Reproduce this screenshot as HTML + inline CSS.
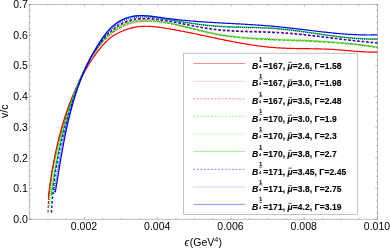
<!DOCTYPE html>
<html><head><meta charset="utf-8"><title>v/c</title>
<style>
html,body{margin:0;padding:0;background:#fff;}
body{width:390px;height:248px;overflow:hidden;}
svg{display:block;will-change:transform;}
text{font-family:"Liberation Sans",sans-serif;font-size:10.5px;fill:#000;}
.lt text{font-weight:bold;font-size:8.5px;letter-spacing:0.06px;stroke:#000;stroke-width:0.12px;}
.cv path{fill:none;stroke-width:1.2;}
</style></head><body>
<svg width="390" height="248" viewBox="0 0 390 248">
<rect width="390" height="248" fill="#fff"/>
<g class="cv">
<path d="M48.33 196.92 L48.47 195.88 L48.61 194.84 L48.75 193.80 L48.89 192.76 L49.03 191.72 L49.18 190.68 L49.32 189.64 L49.47 188.60 L49.62 187.55 L49.77 186.51 L49.92 185.46 L50.08 184.42 L50.23 183.37 L50.39 182.32 L50.55 181.28 L50.71 180.23 L50.87 179.18 L51.04 178.13 L51.20 177.08 L51.37 176.03 L51.54 174.98 L51.71 173.93 L51.88 172.88 L52.06 171.83 L52.24 170.78 L52.42 169.73 L52.60 168.68 L52.78 167.63 L52.97 166.58 L53.15 165.53 L53.34 164.48 L53.54 163.43 L53.73 162.38 L53.93 161.33 L54.13 160.28 L54.33 159.23 L54.53 158.18 L54.74 157.13 L54.95 156.08 L55.16 155.03 L55.37 153.98 L55.59 152.93 L55.81 151.88 L56.03 150.84 L56.25 149.79 L56.48 148.74 L56.71 147.70 L56.94 146.65 L57.17 145.61 L57.41 144.56 L57.65 143.52 L57.89 142.48 L58.14 141.43 L58.39 140.39 L58.64 139.35 L58.89 138.31 L59.15 137.27 L59.41 136.24 L59.68 135.20 L59.94 134.16 L60.21 133.13 L60.49 132.10 L60.76 131.06 L61.04 130.03 L61.33 129.00 L61.61 127.97 L61.90 126.94 L62.19 125.92 L62.49 124.89 L62.79 123.87 L63.09 122.84 L63.40 121.82 L63.71 120.80 L64.02 119.78 L64.34 118.76 L64.66 117.75 L64.98 116.73 L65.31 115.72 L65.64 114.71 L65.98 113.70 L66.32 112.69 L66.66 111.69 L67.01 110.68 L67.36 109.68 L67.71 108.68 L68.07 107.68 L68.43 106.68 L68.80 105.68 L69.17 104.69 L69.55 103.70 L69.92 102.71 L70.31 101.72 L70.69 100.74 L71.08 99.75 L71.48 98.77 L71.88 97.79 L72.28 96.81 L72.69 95.84 L73.10 94.87 L73.52 93.89 L73.94 92.93 L74.36 91.96 L74.79 90.99 L75.23 90.03 L75.67 89.07 L76.11 88.11 L76.56 87.16 L77.01 86.20 L77.46 85.25 L77.92 84.30 L78.39 83.35 L78.86 82.40 L79.33 81.46 L79.81 80.51 L80.30 79.57 L80.78 78.63 L81.28 77.69 L81.77 76.75 L82.27 75.82 L82.78 74.88 L83.29 73.95 L83.81 73.02 L84.33 72.09 L84.85 71.16 L85.38 70.24 L85.92 69.31 L86.45 68.39 L87.00 67.47 L87.55 66.55 L88.10 65.63 L88.66 64.71 L89.22 63.79 L89.79 62.88 L90.37 61.97 L90.94 61.06 L91.53 60.15 L92.12 59.25 L92.72 58.36 L93.32 57.46 L93.93 56.58 L94.54 55.69 L95.16 54.82 L95.78 53.95 L96.42 53.08 L97.06 52.22 L97.70 51.37 L98.35 50.52 L99.01 49.69 L99.68 48.86 L100.35 48.03 L101.03 47.22 L101.72 46.41 L102.41 45.62 L103.11 44.83 L103.82 44.06 L104.54 43.29 L105.26 42.53 L105.99 41.79 L106.73 41.05 L107.48 40.33 L108.24 39.63 L109.02 38.94 L109.81 38.27 L110.61 37.63 L111.43 37.00 L112.27 36.41 L113.13 35.84 L114.00 35.29 L114.90 34.76 L115.80 34.25 L116.73 33.75 L117.67 33.27 L118.62 32.79 L119.59 32.33 L120.57 31.87 L121.56 31.43 L122.56 31.00 L123.57 30.58 L124.59 30.18 L125.62 29.79 L126.65 29.42 L127.69 29.07 L128.73 28.73 L129.78 28.42 L130.83 28.13 L131.88 27.85 L132.94 27.60 L133.99 27.38 L135.05 27.17 L136.10 26.99 L137.16 26.84 L138.21 26.70 L139.26 26.58 L140.32 26.48 L141.37 26.40 L142.43 26.34 L143.48 26.30 L144.53 26.28 L145.59 26.27 L146.64 26.27 L147.70 26.29 L148.75 26.33 L149.80 26.38 L150.86 26.44 L151.91 26.51 L152.96 26.60 L154.01 26.69 L155.07 26.80 L156.12 26.91 L157.17 27.03 L158.22 27.17 L159.27 27.30 L160.33 27.45 L161.38 27.60 L162.43 27.75 L163.48 27.92 L164.53 28.08 L165.58 28.25 L166.62 28.42 L167.67 28.59 L168.72 28.76 L169.77 28.94 L170.82 29.12 L171.86 29.30 L172.91 29.49 L173.96 29.67 L175.00 29.86 L176.05 30.05 L177.10 30.25 L178.14 30.44 L179.19 30.64 L180.23 30.84 L181.28 31.04 L182.32 31.24 L183.36 31.44 L184.41 31.65 L185.45 31.85 L186.50 32.06 L187.54 32.27 L188.58 32.48 L189.63 32.69 L190.67 32.91 L191.71 33.12 L192.75 33.34 L193.80 33.55 L194.84 33.77 L195.88 33.99 L196.92 34.20 L197.97 34.42 L199.01 34.64 L200.05 34.86 L201.09 35.08 L202.13 35.31 L203.18 35.53 L204.22 35.75 L205.26 35.97 L206.30 36.19 L207.34 36.41 L208.38 36.64 L209.43 36.86 L210.47 37.08 L211.51 37.30 L212.55 37.52 L213.59 37.74 L214.63 37.96 L215.68 38.18 L216.72 38.40 L217.76 38.62 L218.80 38.84 L219.84 39.06 L220.89 39.27 L221.93 39.49 L222.97 39.70 L224.01 39.92 L225.06 40.13 L226.10 40.34 L227.14 40.55 L228.19 40.76 L229.23 40.96 L230.27 41.17 L231.32 41.37 L232.36 41.58 L233.41 41.78 L234.45 41.98 L235.49 42.17 L236.54 42.37 L237.58 42.56 L238.63 42.75 L239.68 42.94 L240.72 43.13 L241.77 43.32 L242.81 43.50 L243.86 43.68 L244.91 43.86 L245.96 44.03 L247.00 44.21 L248.05 44.38 L249.10 44.55 L250.15 44.71 L251.20 44.87 L252.25 45.03 L253.30 45.19 L254.35 45.34 L255.40 45.49 L256.45 45.64 L257.50 45.78 L258.56 45.92 L259.61 46.06 L260.66 46.20 L261.72 46.33 L262.77 46.45 L263.82 46.58 L264.88 46.70 L265.93 46.81 L266.99 46.92 L268.05 47.03 L269.10 47.14 L270.16 47.24 L271.22 47.33 L272.28 47.42 L273.34 47.51 L274.40 47.59 L275.46 47.67 L276.52 47.75 L277.58 47.82 L278.64 47.88 L279.71 47.94 L280.77 48.00 L281.83 48.06 L282.90 48.11 L283.96 48.16 L285.03 48.20 L286.09 48.24 L287.16 48.28 L288.22 48.32 L289.29 48.35 L290.36 48.39 L291.42 48.42 L292.49 48.44 L293.56 48.47 L294.62 48.49 L295.69 48.51 L296.76 48.53 L297.83 48.55 L298.90 48.57 L299.97 48.59 L301.03 48.61 L302.10 48.62 L303.17 48.64 L304.24 48.65 L305.31 48.67 L306.38 48.68 L307.45 48.69 L308.51 48.71 L309.58 48.72 L310.65 48.74 L311.72 48.75 L312.79 48.77 L313.86 48.79 L314.92 48.81 L315.99 48.83 L317.06 48.85 L318.13 48.87 L319.19 48.90 L320.26 48.92 L321.33 48.95 L322.39 48.98 L323.46 49.02 L324.52 49.05 L325.59 49.09 L326.65 49.13 L327.72 49.18 L328.78 49.22 L329.84 49.27 L330.91 49.33 L331.97 49.38 L333.03 49.44 L334.09 49.51 L335.15 49.58 L336.21 49.65 L337.27 49.73 L338.33 49.81 L339.39 49.89 L340.45 49.97 L341.50 50.06 L342.56 50.15 L343.62 50.24 L344.68 50.34 L345.73 50.43 L346.79 50.52 L347.85 50.62 L348.90 50.71 L349.96 50.81 L351.02 50.90 L352.07 51.00 L353.13 51.09 L354.19 51.18 L355.25 51.26 L356.30 51.35 L357.36 51.43 L358.42 51.51 L359.48 51.58 L360.54 51.66 L361.60 51.72 L362.66 51.79 L363.72 51.84 L364.79 51.90 L365.85 51.94 L366.92 51.99 L367.98 52.02 L369.05 52.05 L370.11 52.07 L371.18 52.08 L372.25 52.09 L373.32 52.09 L374.39 52.08 L375.47 52.06 L376.54 52.03 L377.62 52.00" stroke="#ff0000"/>
<path d="M48.26 204.09 L48.33 202.98 L48.40 201.87 L48.48 200.76 L48.56 199.66 L48.65 198.55 L48.74 197.45 L48.83 196.35 L48.93 195.25 L49.03 194.15 L49.13 193.05 L49.24 191.95 L49.35 190.86 L49.47 189.76 L49.59 188.67 L49.71 187.58 L49.84 186.49 L49.97 185.40 L50.10 184.32 L50.24 183.23 L50.38 182.15 L50.53 181.06 L50.68 179.98 L50.83 178.90 L50.98 177.82 L51.14 176.74 L51.31 175.67 L51.47 174.59 L51.64 173.52 L51.82 172.44 L52.00 171.37 L52.18 170.30 L52.36 169.23 L52.55 168.16 L52.74 167.09 L52.94 166.03 L53.13 164.96 L53.34 163.90 L53.54 162.83 L53.75 161.77 L53.96 160.71 L54.18 159.65 L54.39 158.59 L54.62 157.53 L54.84 156.47 L55.07 155.42 L55.30 154.36 L55.54 153.30 L55.77 152.25 L56.02 151.20 L56.26 150.15 L56.51 149.09 L56.76 148.04 L57.01 146.99 L57.27 145.94 L57.53 144.90 L57.79 143.85 L58.06 142.80 L58.33 141.76 L58.60 140.71 L58.88 139.67 L59.16 138.62 L59.44 137.58 L59.72 136.54 L60.01 135.50 L60.30 134.45 L60.59 133.41 L60.89 132.37 L61.19 131.33 L61.49 130.30 L61.80 129.26 L62.11 128.22 L62.42 127.18 L62.73 126.15 L63.05 125.11 L63.37 124.08 L63.69 123.04 L64.01 122.01 L64.34 120.97 L64.67 119.94 L65.00 118.91 L65.34 117.87 L65.68 116.84 L66.02 115.81 L66.36 114.78 L66.71 113.75 L67.06 112.72 L67.41 111.68 L67.77 110.65 L68.12 109.62 L68.48 108.60 L68.85 107.57 L69.21 106.54 L69.58 105.51 L69.95 104.48 L70.32 103.45 L70.69 102.42 L71.07 101.40 L71.45 100.37 L71.83 99.34 L72.22 98.31 L72.60 97.29 L72.99 96.26 L73.39 95.23 L73.78 94.21 L74.18 93.18 L74.58 92.15 L74.98 91.13 L75.39 90.11 L75.80 89.08 L76.21 88.06 L76.62 87.04 L77.04 86.02 L77.47 85.01 L77.89 83.99 L78.33 82.98 L78.76 81.96 L79.20 80.95 L79.64 79.95 L80.09 78.94 L80.54 77.94 L81.00 76.94 L81.46 75.94 L81.93 74.94 L82.40 73.95 L82.88 72.96 L83.36 71.98 L83.85 70.99 L84.34 70.01 L84.84 69.04 L85.34 68.06 L85.85 67.10 L86.37 66.13 L86.89 65.17 L87.42 64.21 L87.95 63.26 L88.49 62.31 L89.04 61.37 L89.59 60.43 L90.15 59.50 L90.72 58.57 L91.30 57.64 L91.88 56.72 L92.47 55.81 L93.06 54.90 L93.67 54.00 L94.28 53.10 L94.90 52.21 L95.52 51.33 L96.16 50.45 L96.80 49.57 L97.45 48.71 L98.11 47.85 L98.78 46.99 L99.45 46.15 L100.14 45.31 L100.83 44.47 L101.53 43.65 L102.24 42.83 L102.96 42.02 L103.69 41.21 L104.43 40.41 L105.18 39.63 L105.94 38.85 L106.71 38.08 L107.49 37.32 L108.27 36.57 L109.07 35.84 L109.88 35.12 L110.70 34.41 L111.53 33.71 L112.37 33.03 L113.22 32.37 L114.08 31.72 L114.95 31.09 L115.84 30.48 L116.74 29.88 L117.64 29.30 L118.56 28.75 L119.49 28.21 L120.42 27.69 L121.37 27.19 L122.33 26.70 L123.29 26.24 L124.26 25.80 L125.25 25.38 L126.24 24.98 L127.24 24.60 L128.24 24.24 L129.26 23.90 L130.28 23.59 L131.30 23.29 L132.34 23.02 L133.38 22.77 L134.42 22.54 L135.48 22.33 L136.53 22.14 L137.59 21.97 L138.66 21.82 L139.73 21.69 L140.81 21.57 L141.89 21.48 L142.97 21.40 L144.06 21.33 L145.15 21.29 L146.24 21.25 L147.33 21.24 L148.43 21.24 L149.53 21.25 L150.63 21.28 L151.73 21.32 L152.83 21.37 L153.93 21.44 L155.04 21.52 L156.14 21.61 L157.24 21.71 L158.34 21.82 L159.45 21.94 L160.55 22.07 L161.65 22.21 L162.75 22.36 L163.84 22.52 L164.94 22.68 L166.03 22.85 L167.12 23.03 L168.20 23.22 L169.29 23.41 L170.37 23.61 L171.45 23.82 L172.53 24.03 L173.60 24.24 L174.68 24.46 L175.75 24.69 L176.82 24.92 L177.89 25.16 L178.96 25.39 L180.02 25.64 L181.09 25.88 L182.15 26.13 L183.21 26.38 L184.28 26.64 L185.34 26.90 L186.40 27.16 L187.45 27.42 L188.51 27.68 L189.57 27.94 L190.62 28.21 L191.68 28.48 L192.73 28.74 L193.79 29.01 L194.84 29.28 L195.89 29.54 L196.95 29.81 L198.00 30.07 L199.05 30.34 L200.11 30.60 L201.16 30.86 L202.21 31.12 L203.27 31.37 L204.32 31.63 L205.38 31.88 L206.43 32.12 L207.49 32.37 L208.54 32.61 L209.60 32.85 L210.66 33.08 L211.72 33.31 L212.78 33.53 L213.84 33.75 L214.90 33.96 L215.96 34.17 L217.03 34.37 L218.09 34.57 L219.16 34.76 L220.23 34.95 L221.29 35.13 L222.36 35.30 L223.43 35.48 L224.51 35.64 L225.58 35.80 L226.65 35.96 L227.73 36.11 L228.80 36.26 L229.88 36.41 L230.96 36.54 L232.03 36.68 L233.11 36.81 L234.19 36.94 L235.27 37.06 L236.36 37.18 L237.44 37.30 L238.52 37.41 L239.60 37.52 L240.69 37.62 L241.77 37.73 L242.86 37.82 L243.94 37.92 L245.03 38.01 L246.12 38.10 L247.20 38.19 L248.29 38.27 L249.38 38.35 L250.47 38.43 L251.56 38.51 L252.65 38.58 L253.73 38.65 L254.82 38.72 L255.91 38.79 L257.01 38.85 L258.10 38.91 L259.19 38.97 L260.28 39.03 L261.37 39.09 L262.46 39.15 L263.55 39.20 L264.64 39.25 L265.74 39.30 L266.83 39.35 L267.92 39.40 L269.01 39.45 L270.10 39.50 L271.19 39.54 L272.29 39.59 L273.38 39.63 L274.47 39.68 L275.56 39.72 L276.65 39.76 L277.74 39.81 L278.83 39.85 L279.92 39.89 L281.01 39.93 L282.10 39.97 L283.19 40.02 L284.28 40.06 L285.37 40.10 L286.46 40.14 L287.55 40.18 L288.64 40.22 L289.73 40.26 L290.82 40.30 L291.91 40.34 L293.00 40.38 L294.09 40.43 L295.18 40.47 L296.26 40.51 L297.35 40.55 L298.44 40.59 L299.53 40.64 L300.62 40.68 L301.70 40.73 L302.79 40.77 L303.88 40.82 L304.97 40.86 L306.05 40.91 L307.14 40.96 L308.23 41.00 L309.31 41.05 L310.40 41.10 L311.49 41.15 L312.57 41.21 L313.66 41.26 L314.75 41.31 L315.83 41.37 L316.92 41.42 L318.00 41.48 L319.09 41.54 L320.18 41.60 L321.26 41.66 L322.35 41.72 L323.43 41.78 L324.52 41.84 L325.60 41.91 L326.69 41.98 L327.77 42.05 L328.86 42.12 L329.94 42.19 L331.03 42.26 L332.11 42.34 L333.20 42.41 L334.28 42.49 L335.37 42.57 L336.45 42.65 L337.53 42.74 L338.62 42.82 L339.70 42.91 L340.79 43.00 L341.87 43.09 L342.95 43.19 L344.04 43.28 L345.12 43.38 L346.21 43.48 L347.29 43.59 L348.37 43.69 L349.46 43.80 L350.54 43.91 L351.62 44.02 L352.71 44.13 L353.79 44.25 L354.87 44.37 L355.96 44.49 L357.04 44.62 L358.12 44.74 L359.21 44.87 L360.29 45.01 L361.37 45.14 L362.45 45.28 L363.54 45.42 L364.62 45.56 L365.70 45.71 L366.79 45.86 L367.87 46.01 L368.95 46.17 L370.03 46.33 L371.12 46.49 L372.20 46.66 L373.28 46.83 L374.36 47.00 L375.45 47.17 L376.53 47.35 L377.61 47.53" stroke="#ff0000" stroke-dasharray="0.9 1.15"/>
<path d="M48.00 212.47 L48.04 211.34 L48.09 210.21 L48.14 209.08 L48.19 207.95 L48.25 206.83 L48.32 205.70 L48.38 204.58 L48.45 203.45 L48.53 202.33 L48.61 201.21 L48.69 200.09 L48.78 198.97 L48.87 197.86 L48.96 196.74 L49.06 195.62 L49.17 194.51 L49.27 193.40 L49.39 192.29 L49.50 191.17 L49.62 190.06 L49.74 188.96 L49.87 187.85 L50.00 186.74 L50.13 185.63 L50.27 184.53 L50.42 183.43 L50.56 182.32 L50.71 181.22 L50.87 180.12 L51.02 179.02 L51.18 177.92 L51.35 176.82 L51.52 175.73 L51.69 174.63 L51.86 173.53 L52.04 172.44 L52.23 171.35 L52.41 170.25 L52.60 169.16 L52.80 168.07 L53.00 166.98 L53.20 165.89 L53.40 164.80 L53.61 163.72 L53.82 162.63 L54.03 161.55 L54.25 160.46 L54.47 159.38 L54.70 158.29 L54.93 157.21 L55.16 156.13 L55.39 155.05 L55.63 153.97 L55.88 152.89 L56.12 151.81 L56.37 150.74 L56.62 149.66 L56.88 148.58 L57.13 147.51 L57.39 146.43 L57.66 145.36 L57.93 144.29 L58.20 143.21 L58.47 142.14 L58.75 141.07 L59.03 140.00 L59.31 138.93 L59.60 137.86 L59.89 136.80 L60.18 135.73 L60.48 134.66 L60.77 133.59 L61.08 132.53 L61.38 131.46 L61.69 130.40 L62.00 129.34 L62.31 128.27 L62.63 127.21 L62.94 126.15 L63.27 125.09 L63.59 124.03 L63.92 122.97 L64.25 121.91 L64.58 120.85 L64.92 119.79 L65.25 118.73 L65.60 117.67 L65.94 116.62 L66.29 115.56 L66.64 114.51 L66.99 113.45 L67.34 112.40 L67.70 111.34 L68.06 110.29 L68.42 109.23 L68.79 108.18 L69.15 107.13 L69.52 106.08 L69.89 105.02 L70.27 103.97 L70.65 102.92 L71.03 101.87 L71.41 100.82 L71.79 99.77 L72.18 98.72 L72.57 97.67 L72.96 96.63 L73.35 95.58 L73.75 94.53 L74.15 93.48 L74.55 92.44 L74.96 91.39 L75.37 90.35 L75.78 89.31 L76.19 88.26 L76.61 87.22 L77.03 86.18 L77.45 85.14 L77.88 84.11 L78.31 83.07 L78.75 82.04 L79.19 81.01 L79.63 79.98 L80.08 78.95 L80.53 77.93 L80.99 76.90 L81.45 75.88 L81.92 74.86 L82.39 73.85 L82.86 72.84 L83.34 71.83 L83.83 70.82 L84.32 69.81 L84.82 68.81 L85.32 67.81 L85.82 66.82 L86.34 65.83 L86.86 64.84 L87.38 63.85 L87.91 62.87 L88.45 61.89 L88.99 60.92 L89.54 59.95 L90.09 58.98 L90.66 58.02 L91.22 57.06 L91.80 56.11 L92.38 55.16 L92.97 54.22 L93.57 53.28 L94.17 52.34 L94.78 51.41 L95.40 50.49 L96.03 49.57 L96.66 48.65 L97.30 47.74 L97.95 46.84 L98.61 45.94 L99.27 45.04 L99.94 44.16 L100.63 43.27 L101.32 42.40 L102.02 41.53 L102.72 40.66 L103.44 39.80 L104.16 38.95 L104.90 38.11 L105.64 37.28 L106.40 36.46 L107.16 35.65 L107.94 34.85 L108.72 34.06 L109.52 33.29 L110.33 32.54 L111.14 31.79 L111.97 31.07 L112.82 30.36 L113.67 29.67 L114.54 29.00 L115.42 28.35 L116.31 27.72 L117.21 27.11 L118.12 26.52 L119.05 25.95 L119.99 25.40 L120.93 24.87 L121.89 24.37 L122.86 23.88 L123.83 23.42 L124.82 22.99 L125.82 22.57 L126.82 22.18 L127.84 21.82 L128.86 21.47 L129.89 21.15 L130.93 20.86 L131.97 20.59 L133.03 20.35 L134.09 20.13 L135.16 19.93 L136.23 19.75 L137.31 19.60 L138.40 19.47 L139.49 19.35 L140.58 19.26 L141.69 19.18 L142.79 19.13 L143.90 19.09 L145.01 19.06 L146.13 19.06 L147.25 19.07 L148.37 19.09 L149.50 19.13 L150.63 19.18 L151.75 19.24 L152.88 19.32 L154.02 19.41 L155.15 19.50 L156.28 19.61 L157.41 19.73 L158.55 19.86 L159.68 19.99 L160.81 20.13 L161.94 20.28 L163.07 20.44 L164.20 20.60 L165.32 20.76 L166.44 20.93 L167.56 21.11 L168.68 21.29 L169.79 21.47 L170.91 21.65 L172.02 21.84 L173.13 22.03 L174.24 22.22 L175.34 22.42 L176.45 22.62 L177.55 22.82 L178.65 23.02 L179.75 23.22 L180.85 23.42 L181.94 23.63 L183.04 23.84 L184.13 24.04 L185.23 24.25 L186.32 24.46 L187.41 24.67 L188.50 24.88 L189.59 25.08 L190.68 25.29 L191.77 25.49 L192.86 25.70 L193.95 25.90 L195.03 26.10 L196.12 26.30 L197.21 26.50 L198.30 26.70 L199.38 26.89 L200.47 27.08 L201.56 27.27 L202.65 27.45 L203.73 27.63 L204.82 27.81 L205.91 27.98 L207.00 28.15 L208.09 28.31 L209.18 28.48 L210.27 28.63 L211.36 28.78 L212.46 28.93 L213.55 29.07 L214.64 29.20 L215.74 29.33 L216.84 29.45 L217.94 29.57 L219.04 29.68 L220.14 29.79 L221.24 29.89 L222.34 29.99 L223.44 30.08 L224.55 30.17 L225.66 30.25 L226.76 30.33 L227.87 30.40 L228.98 30.47 L230.09 30.54 L231.20 30.60 L232.31 30.66 L233.42 30.72 L234.53 30.77 L235.64 30.82 L236.75 30.87 L237.87 30.91 L238.98 30.95 L240.10 30.99 L241.21 31.03 L242.33 31.07 L243.44 31.10 L244.56 31.14 L245.68 31.17 L246.79 31.20 L247.91 31.23 L249.03 31.26 L250.15 31.28 L251.26 31.31 L252.38 31.34 L253.50 31.36 L254.62 31.39 L255.74 31.42 L256.85 31.44 L257.97 31.47 L259.09 31.50 L260.21 31.53 L261.33 31.56 L262.44 31.59 L263.56 31.62 L264.68 31.65 L265.80 31.69 L266.91 31.73 L268.03 31.77 L269.15 31.81 L270.26 31.85 L271.38 31.90 L272.50 31.95 L273.61 32.00 L274.72 32.05 L275.84 32.11 L276.95 32.17 L278.07 32.24 L279.18 32.30 L280.29 32.37 L281.40 32.45 L282.51 32.52 L283.62 32.60 L284.73 32.68 L285.84 32.77 L286.95 32.85 L288.06 32.94 L289.17 33.03 L290.28 33.13 L291.39 33.22 L292.49 33.32 L293.60 33.42 L294.71 33.53 L295.81 33.63 L296.92 33.74 L298.03 33.85 L299.13 33.96 L300.24 34.07 L301.34 34.19 L302.45 34.30 L303.55 34.42 L304.66 34.54 L305.76 34.66 L306.86 34.78 L307.97 34.91 L309.07 35.03 L310.17 35.16 L311.28 35.29 L312.38 35.41 L313.48 35.54 L314.59 35.68 L315.69 35.81 L316.79 35.94 L317.89 36.07 L319.00 36.21 L320.10 36.34 L321.20 36.48 L322.30 36.61 L323.41 36.75 L324.51 36.89 L325.61 37.03 L326.71 37.16 L327.82 37.30 L328.92 37.44 L330.02 37.58 L331.12 37.72 L332.22 37.85 L333.33 37.99 L334.43 38.13 L335.53 38.27 L336.64 38.41 L337.74 38.54 L338.84 38.68 L339.94 38.82 L341.05 38.95 L342.15 39.09 L343.26 39.22 L344.36 39.36 L345.46 39.49 L346.57 39.62 L347.67 39.75 L348.78 39.88 L349.88 40.01 L350.99 40.14 L352.09 40.27 L353.20 40.40 L354.30 40.52 L355.41 40.64 L356.52 40.77 L357.62 40.89 L358.73 41.00 L359.84 41.12 L360.95 41.24 L362.06 41.35 L363.17 41.46 L364.27 41.57 L365.38 41.68 L366.49 41.79 L367.61 41.89 L368.72 41.99 L369.83 42.09 L370.94 42.19 L372.05 42.29 L373.16 42.38 L374.28 42.47 L375.39 42.56 L376.51 42.64 L377.62 42.73" stroke="#ff0000" stroke-dasharray="2.5 2.0"/>
<path d="M51.15 212.44 L51.19 211.32 L51.24 210.20 L51.29 209.08 L51.35 207.96 L51.41 206.85 L51.47 205.73 L51.54 204.61 L51.61 203.50 L51.68 202.38 L51.76 201.27 L51.84 200.16 L51.93 199.05 L52.02 197.94 L52.11 196.83 L52.21 195.72 L52.30 194.61 L52.41 193.50 L52.51 192.40 L52.62 191.29 L52.74 190.19 L52.85 189.08 L52.97 187.98 L53.10 186.88 L53.22 185.77 L53.35 184.67 L53.49 183.57 L53.62 182.47 L53.76 181.38 L53.91 180.28 L54.05 179.18 L54.20 178.09 L54.36 176.99 L54.51 175.90 L54.67 174.80 L54.84 173.71 L55.00 172.62 L55.17 171.52 L55.34 170.43 L55.52 169.34 L55.70 168.25 L55.88 167.16 L56.07 166.08 L56.26 164.99 L56.45 163.90 L56.64 162.81 L56.84 161.73 L57.04 160.64 L57.24 159.56 L57.45 158.48 L57.66 157.39 L57.87 156.31 L58.09 155.23 L58.31 154.15 L58.53 153.07 L58.76 151.99 L58.99 150.91 L59.22 149.83 L59.45 148.75 L59.69 147.67 L59.93 146.60 L60.17 145.52 L60.41 144.44 L60.66 143.37 L60.91 142.29 L61.17 141.22 L61.42 140.15 L61.68 139.07 L61.95 138.00 L62.21 136.93 L62.48 135.86 L62.75 134.79 L63.02 133.72 L63.30 132.65 L63.58 131.58 L63.86 130.51 L64.14 129.44 L64.43 128.37 L64.72 127.30 L65.01 126.24 L65.31 125.17 L65.60 124.11 L65.90 123.04 L66.21 121.97 L66.51 120.91 L66.82 119.85 L67.13 118.78 L67.44 117.72 L67.76 116.65 L68.07 115.59 L68.39 114.53 L68.72 113.47 L69.04 112.41 L69.37 111.35 L69.70 110.28 L70.03 109.22 L70.37 108.16 L70.70 107.10 L71.04 106.05 L71.39 104.99 L71.73 103.93 L72.08 102.87 L72.43 101.81 L72.78 100.75 L73.13 99.70 L73.49 98.64 L73.84 97.58 L74.20 96.53 L74.57 95.47 L74.93 94.42 L75.30 93.36 L75.67 92.31 L76.04 91.25 L76.42 90.20 L76.80 89.15 L77.18 88.10 L77.57 87.05 L77.96 86.01 L78.35 84.96 L78.75 83.92 L79.16 82.88 L79.56 81.84 L79.98 80.80 L80.39 79.77 L80.81 78.73 L81.24 77.70 L81.67 76.68 L82.11 75.65 L82.55 74.63 L83.00 73.61 L83.45 72.60 L83.91 71.59 L84.37 70.58 L84.85 69.58 L85.32 68.57 L85.81 67.58 L86.30 66.59 L86.80 65.60 L87.30 64.61 L87.82 63.63 L88.34 62.66 L88.86 61.69 L89.40 60.72 L89.94 59.76 L90.49 58.80 L91.05 57.85 L91.62 56.91 L92.19 55.97 L92.78 55.03 L93.37 54.11 L93.97 53.18 L94.58 52.27 L95.20 51.36 L95.83 50.45 L96.47 49.55 L97.12 48.66 L97.78 47.78 L98.45 46.90 L99.12 46.03 L99.81 45.16 L100.51 44.30 L101.22 43.45 L101.94 42.61 L102.67 41.78 L103.42 40.95 L104.17 40.13 L104.94 39.32 L105.71 38.52 L106.50 37.73 L107.29 36.95 L108.10 36.18 L108.92 35.42 L109.75 34.67 L110.59 33.94 L111.43 33.22 L112.29 32.52 L113.16 31.83 L114.04 31.15 L114.93 30.49 L115.83 29.85 L116.73 29.23 L117.65 28.62 L118.58 28.03 L119.51 27.46 L120.45 26.91 L121.41 26.38 L122.37 25.87 L123.34 25.38 L124.32 24.91 L125.31 24.47 L126.31 24.04 L127.31 23.65 L128.33 23.27 L129.35 22.92 L130.38 22.60 L131.42 22.30 L132.46 22.03 L133.52 21.79 L134.58 21.57 L135.64 21.37 L136.72 21.20 L137.80 21.04 L138.88 20.91 L139.97 20.81 L141.07 20.72 L142.17 20.65 L143.27 20.60 L144.38 20.57 L145.49 20.56 L146.60 20.57 L147.72 20.59 L148.84 20.63 L149.96 20.68 L151.09 20.75 L152.21 20.84 L153.34 20.93 L154.46 21.04 L155.59 21.16 L156.72 21.30 L157.84 21.44 L158.97 21.59 L160.09 21.76 L161.22 21.93 L162.34 22.11 L163.46 22.30 L164.57 22.49 L165.69 22.69 L166.80 22.90 L167.91 23.11 L169.01 23.32 L170.11 23.55 L171.21 23.77 L172.31 24.01 L173.40 24.24 L174.50 24.48 L175.59 24.72 L176.68 24.97 L177.76 25.22 L178.85 25.48 L179.93 25.73 L181.01 25.99 L182.09 26.25 L183.17 26.52 L184.24 26.78 L185.32 27.05 L186.39 27.32 L187.47 27.58 L188.54 27.85 L189.61 28.13 L190.68 28.40 L191.75 28.67 L192.82 28.94 L193.89 29.21 L194.95 29.48 L196.02 29.75 L197.09 30.02 L198.16 30.28 L199.22 30.55 L200.29 30.81 L201.36 31.07 L202.42 31.33 L203.49 31.59 L204.56 31.84 L205.63 32.09 L206.70 32.34 L207.77 32.59 L208.84 32.83 L209.91 33.06 L210.99 33.29 L212.06 33.52 L213.14 33.74 L214.21 33.96 L215.29 34.17 L216.37 34.38 L217.45 34.58 L218.54 34.78 L219.62 34.97 L220.71 35.15 L221.79 35.33 L222.88 35.51 L223.97 35.68 L225.06 35.85 L226.15 36.01 L227.25 36.17 L228.34 36.32 L229.44 36.47 L230.53 36.61 L231.63 36.75 L232.73 36.89 L233.83 37.02 L234.93 37.15 L236.03 37.28 L237.13 37.40 L238.23 37.52 L239.34 37.63 L240.44 37.74 L241.55 37.85 L242.65 37.95 L243.76 38.05 L244.87 38.15 L245.97 38.24 L247.08 38.33 L248.19 38.42 L249.30 38.51 L250.41 38.59 L251.52 38.67 L252.63 38.75 L253.74 38.83 L254.85 38.90 L255.96 38.97 L257.08 39.04 L258.19 39.11 L259.30 39.17 L260.41 39.24 L261.52 39.30 L262.64 39.36 L263.75 39.42 L264.86 39.47 L265.98 39.53 L267.09 39.58 L268.20 39.64 L269.31 39.69 L270.43 39.74 L271.54 39.79 L272.65 39.84 L273.76 39.88 L274.88 39.93 L275.99 39.98 L277.10 40.02 L278.21 40.07 L279.32 40.11 L280.43 40.16 L281.54 40.20 L282.65 40.25 L283.76 40.29 L284.87 40.33 L285.98 40.37 L287.09 40.42 L288.19 40.46 L289.30 40.50 L290.41 40.54 L291.52 40.59 L292.63 40.63 L293.73 40.67 L294.84 40.72 L295.95 40.76 L297.05 40.80 L298.16 40.85 L299.27 40.89 L300.37 40.93 L301.48 40.98 L302.59 41.02 L303.69 41.07 L304.80 41.11 L305.90 41.16 L307.01 41.21 L308.11 41.26 L309.22 41.31 L310.32 41.36 L311.43 41.41 L312.53 41.46 L313.64 41.51 L314.74 41.56 L315.84 41.62 L316.95 41.67 L318.05 41.73 L319.16 41.79 L320.26 41.85 L321.36 41.91 L322.47 41.97 L323.57 42.03 L324.67 42.09 L325.78 42.16 L326.88 42.23 L327.98 42.30 L329.09 42.37 L330.19 42.44 L331.29 42.51 L332.39 42.59 L333.50 42.66 L334.60 42.74 L335.70 42.82 L336.81 42.90 L337.91 42.99 L339.01 43.07 L340.11 43.16 L341.22 43.25 L342.32 43.34 L343.42 43.44 L344.52 43.54 L345.63 43.63 L346.73 43.74 L347.83 43.84 L348.93 43.95 L350.04 44.05 L351.14 44.17 L352.24 44.28 L353.35 44.39 L354.45 44.51 L355.55 44.63 L356.65 44.76 L357.76 44.89 L358.86 45.01 L359.96 45.15 L361.07 45.28 L362.17 45.42 L363.27 45.56 L364.38 45.71 L365.48 45.85 L366.58 46.00 L367.69 46.16 L368.79 46.31 L369.90 46.47 L371.00 46.64 L372.10 46.80 L373.21 46.97 L374.31 47.15 L375.42 47.32 L376.52 47.51 L377.63 47.69" stroke="#00f000" stroke-dasharray="2.5 2.0"/>
<path d="M49.19 206.08 L49.25 204.96 L49.32 203.85 L49.39 202.74 L49.47 201.62 L49.54 200.51 L49.63 199.40 L49.71 198.30 L49.80 197.19 L49.89 196.09 L49.99 194.98 L50.09 193.88 L50.20 192.78 L50.31 191.68 L50.42 190.58 L50.53 189.48 L50.65 188.38 L50.78 187.29 L50.90 186.19 L51.04 185.10 L51.17 184.01 L51.31 182.92 L51.45 181.83 L51.59 180.74 L51.74 179.65 L51.90 178.57 L52.05 177.48 L52.21 176.40 L52.37 175.31 L52.54 174.23 L52.71 173.15 L52.88 172.07 L53.06 170.99 L53.24 169.91 L53.42 168.83 L53.61 167.76 L53.80 166.68 L53.99 165.61 L54.19 164.54 L54.39 163.46 L54.60 162.39 L54.80 161.32 L55.01 160.25 L55.23 159.18 L55.44 158.11 L55.66 157.05 L55.89 155.98 L56.11 154.91 L56.34 153.85 L56.58 152.79 L56.81 151.72 L57.05 150.66 L57.29 149.60 L57.54 148.54 L57.79 147.48 L58.04 146.42 L58.29 145.36 L58.55 144.30 L58.81 143.25 L59.08 142.19 L59.34 141.13 L59.61 140.08 L59.88 139.03 L60.16 137.97 L60.44 136.92 L60.72 135.87 L61.00 134.81 L61.29 133.76 L61.58 132.71 L61.88 131.66 L62.17 130.61 L62.47 129.56 L62.77 128.52 L63.08 127.47 L63.38 126.42 L63.69 125.38 L64.00 124.33 L64.32 123.28 L64.64 122.24 L64.96 121.19 L65.28 120.15 L65.61 119.11 L65.94 118.06 L66.27 117.02 L66.60 115.98 L66.94 114.94 L67.28 113.89 L67.62 112.85 L67.96 111.81 L68.31 110.77 L68.66 109.73 L69.01 108.69 L69.36 107.65 L69.72 106.61 L70.08 105.57 L70.44 104.54 L70.80 103.50 L71.17 102.46 L71.54 101.42 L71.91 100.38 L72.28 99.35 L72.66 98.31 L73.04 97.27 L73.42 96.24 L73.80 95.20 L74.18 94.17 L74.57 93.13 L74.96 92.10 L75.36 91.06 L75.75 90.03 L76.15 89.00 L76.56 87.97 L76.96 86.94 L77.37 85.91 L77.79 84.88 L78.20 83.86 L78.62 82.83 L79.05 81.81 L79.48 80.79 L79.91 79.77 L80.35 78.76 L80.79 77.74 L81.24 76.73 L81.69 75.72 L82.15 74.72 L82.61 73.71 L83.07 72.71 L83.54 71.72 L84.02 70.72 L84.50 69.73 L84.99 68.74 L85.48 67.76 L85.98 66.77 L86.49 65.80 L87.00 64.82 L87.51 63.85 L88.04 62.88 L88.57 61.92 L89.10 60.96 L89.64 60.01 L90.19 59.06 L90.75 58.11 L91.31 57.17 L91.88 56.23 L92.46 55.30 L93.04 54.37 L93.64 53.45 L94.23 52.53 L94.84 51.62 L95.46 50.72 L96.08 49.82 L96.71 48.92 L97.35 48.03 L98.00 47.15 L98.65 46.27 L99.31 45.40 L99.99 44.53 L100.67 43.67 L101.36 42.82 L102.06 41.97 L102.77 41.13 L103.48 40.30 L104.21 39.47 L104.95 38.66 L105.69 37.85 L106.45 37.05 L107.21 36.26 L107.99 35.49 L108.78 34.73 L109.57 33.98 L110.38 33.24 L111.20 32.52 L112.03 31.81 L112.87 31.13 L113.72 30.45 L114.59 29.80 L115.46 29.16 L116.35 28.55 L117.25 27.95 L118.16 27.37 L119.08 26.82 L120.01 26.28 L120.95 25.76 L121.90 25.27 L122.86 24.79 L123.83 24.34 L124.80 23.91 L125.79 23.50 L126.78 23.11 L127.79 22.75 L128.80 22.41 L129.82 22.09 L130.84 21.80 L131.88 21.53 L132.91 21.28 L133.96 21.06 L135.01 20.86 L136.07 20.68 L137.13 20.53 L138.20 20.39 L139.28 20.27 L140.36 20.18 L141.44 20.10 L142.52 20.04 L143.61 20.00 L144.71 19.97 L145.80 19.96 L146.90 19.97 L148.01 20.00 L149.11 20.04 L150.22 20.09 L151.32 20.16 L152.43 20.24 L153.54 20.33 L154.65 20.44 L155.76 20.56 L156.87 20.68 L157.98 20.82 L159.09 20.97 L160.20 21.13 L161.31 21.30 L162.41 21.47 L163.52 21.66 L164.62 21.85 L165.72 22.04 L166.81 22.25 L167.91 22.45 L169.00 22.67 L170.09 22.89 L171.17 23.11 L172.26 23.34 L173.34 23.58 L174.42 23.82 L175.50 24.06 L176.58 24.31 L177.66 24.56 L178.73 24.81 L179.80 25.07 L180.87 25.33 L181.94 25.59 L183.01 25.85 L184.08 26.12 L185.15 26.39 L186.21 26.66 L187.27 26.93 L188.34 27.20 L189.40 27.47 L190.46 27.75 L191.52 28.02 L192.58 28.29 L193.64 28.56 L194.70 28.84 L195.76 29.11 L196.82 29.38 L197.88 29.64 L198.94 29.91 L200.00 30.18 L201.06 30.44 L202.12 30.70 L203.18 30.96 L204.24 31.21 L205.30 31.46 L206.36 31.71 L207.42 31.95 L208.49 32.19 L209.55 32.43 L210.61 32.66 L211.68 32.89 L212.75 33.11 L213.81 33.32 L214.88 33.53 L215.95 33.74 L217.02 33.93 L218.10 34.13 L219.17 34.31 L220.24 34.50 L221.32 34.67 L222.40 34.84 L223.48 35.01 L224.56 35.17 L225.64 35.33 L226.72 35.48 L227.80 35.62 L228.88 35.76 L229.97 35.90 L231.05 36.03 L232.14 36.16 L233.23 36.29 L234.31 36.41 L235.40 36.52 L236.49 36.64 L237.58 36.74 L238.67 36.85 L239.76 36.95 L240.86 37.05 L241.95 37.14 L243.04 37.23 L244.14 37.32 L245.23 37.41 L246.33 37.49 L247.42 37.57 L248.52 37.64 L249.62 37.72 L250.71 37.79 L251.81 37.86 L252.91 37.92 L254.01 37.99 L255.10 38.05 L256.20 38.11 L257.30 38.17 L258.40 38.23 L259.50 38.28 L260.60 38.33 L261.70 38.39 L262.80 38.44 L263.90 38.48 L265.00 38.53 L266.10 38.58 L267.20 38.63 L268.30 38.67 L269.40 38.72 L270.50 38.76 L271.60 38.80 L272.70 38.85 L273.80 38.89 L274.90 38.93 L276.00 38.97 L277.09 39.02 L278.19 39.06 L279.29 39.10 L280.39 39.14 L281.49 39.19 L282.59 39.23 L283.68 39.27 L284.78 39.31 L285.88 39.36 L286.97 39.40 L288.07 39.45 L289.17 39.49 L290.26 39.53 L291.36 39.58 L292.46 39.62 L293.55 39.67 L294.65 39.72 L295.74 39.76 L296.84 39.81 L297.93 39.86 L299.03 39.90 L300.12 39.95 L301.22 40.00 L302.31 40.05 L303.41 40.10 L304.50 40.16 L305.59 40.21 L306.69 40.26 L307.78 40.32 L308.87 40.37 L309.97 40.43 L311.06 40.48 L312.15 40.54 L313.25 40.60 L314.34 40.66 L315.43 40.72 L316.53 40.78 L317.62 40.85 L318.71 40.91 L319.80 40.98 L320.90 41.04 L321.99 41.11 L323.08 41.18 L324.17 41.25 L325.26 41.33 L326.35 41.40 L327.45 41.47 L328.54 41.55 L329.63 41.63 L330.72 41.71 L331.81 41.79 L332.90 41.87 L333.99 41.96 L335.09 42.04 L336.18 42.13 L337.27 42.22 L338.36 42.31 L339.45 42.41 L340.54 42.50 L341.63 42.60 L342.72 42.70 L343.81 42.80 L344.90 42.90 L345.99 43.00 L347.08 43.11 L348.17 43.22 L349.26 43.33 L350.36 43.44 L351.45 43.56 L352.54 43.67 L353.63 43.79 L354.72 43.92 L355.81 44.04 L356.90 44.17 L357.99 44.29 L359.08 44.43 L360.17 44.56 L361.26 44.69 L362.35 44.83 L363.44 44.97 L364.53 45.12 L365.62 45.26 L366.71 45.41 L367.80 45.56 L368.89 45.72 L369.98 45.87 L371.07 46.03 L372.16 46.19 L373.25 46.36 L374.34 46.53 L375.43 46.70 L376.52 46.87 L377.62 47.05" stroke="#00f000" stroke-dasharray="0.9 1.15"/>
<path d="M51.07 195.94 L51.22 194.88 L51.37 193.82 L51.52 192.75 L51.67 191.69 L51.82 190.63 L51.97 189.56 L52.13 188.50 L52.29 187.43 L52.44 186.37 L52.60 185.30 L52.76 184.24 L52.93 183.17 L53.09 182.11 L53.25 181.04 L53.42 179.98 L53.59 178.91 L53.76 177.85 L53.93 176.78 L54.10 175.72 L54.27 174.65 L54.45 173.59 L54.63 172.52 L54.80 171.46 L54.98 170.39 L55.17 169.33 L55.35 168.26 L55.53 167.20 L55.72 166.14 L55.91 165.07 L56.10 164.01 L56.29 162.94 L56.49 161.88 L56.68 160.82 L56.88 159.75 L57.08 158.69 L57.28 157.63 L57.49 156.57 L57.69 155.51 L57.90 154.44 L58.11 153.38 L58.32 152.32 L58.54 151.26 L58.75 150.20 L58.97 149.14 L59.19 148.09 L59.42 147.03 L59.64 145.97 L59.87 144.91 L60.10 143.85 L60.33 142.80 L60.57 141.74 L60.80 140.69 L61.04 139.63 L61.28 138.58 L61.53 137.52 L61.77 136.47 L62.02 135.42 L62.27 134.37 L62.53 133.32 L62.78 132.27 L63.04 131.22 L63.31 130.17 L63.57 129.12 L63.84 128.07 L64.11 127.03 L64.38 125.98 L64.65 124.94 L64.93 123.89 L65.21 122.85 L65.50 121.81 L65.78 120.77 L66.07 119.72 L66.36 118.69 L66.66 117.65 L66.96 116.61 L67.26 115.57 L67.56 114.54 L67.87 113.50 L68.18 112.47 L68.49 111.44 L68.81 110.40 L69.13 109.37 L69.45 108.34 L69.78 107.31 L70.11 106.29 L70.44 105.26 L70.77 104.24 L71.11 103.21 L71.45 102.19 L71.80 101.17 L72.15 100.15 L72.50 99.13 L72.85 98.11 L73.21 97.09 L73.58 96.08 L73.94 95.07 L74.31 94.05 L74.68 93.04 L75.06 92.03 L75.44 91.02 L75.82 90.02 L76.21 89.01 L76.60 88.01 L76.99 87.00 L77.39 86.00 L77.79 85.00 L78.20 84.00 L78.61 83.00 L79.02 82.01 L79.44 81.02 L79.86 80.02 L80.28 79.03 L80.71 78.04 L81.15 77.05 L81.58 76.07 L82.02 75.08 L82.47 74.10 L82.92 73.12 L83.37 72.14 L83.82 71.16 L84.29 70.19 L84.75 69.21 L85.22 68.24 L85.69 67.27 L86.17 66.30 L86.65 65.33 L87.14 64.37 L87.63 63.40 L88.12 62.44 L88.62 61.48 L89.12 60.52 L89.63 59.57 L90.14 58.61 L90.66 57.66 L91.18 56.71 L91.71 55.76 L92.24 54.82 L92.77 53.87 L93.31 52.93 L93.85 51.99 L94.40 51.05 L94.95 50.11 L95.51 49.18 L96.07 48.25 L96.64 47.32 L97.21 46.39 L97.79 45.46 L98.37 44.54 L98.95 43.62 L99.55 42.70 L100.14 41.78 L100.74 40.87 L101.35 39.96 L101.96 39.05 L102.58 38.15 L103.20 37.25 L103.84 36.36 L104.48 35.48 L105.13 34.60 L105.79 33.74 L106.46 32.89 L107.15 32.05 L107.84 31.22 L108.55 30.41 L109.27 29.61 L110.00 28.82 L110.75 28.06 L111.51 27.31 L112.29 26.58 L113.08 25.87 L113.89 25.18 L114.72 24.51 L115.56 23.86 L116.41 23.24 L117.28 22.63 L118.16 22.05 L119.05 21.49 L119.95 20.96 L120.87 20.44 L121.80 19.96 L122.74 19.49 L123.69 19.06 L124.65 18.65 L125.62 18.26 L126.60 17.90 L127.58 17.57 L128.58 17.27 L129.58 16.99 L130.60 16.75 L131.61 16.53 L132.64 16.33 L133.67 16.17 L134.71 16.03 L135.75 15.91 L136.80 15.82 L137.85 15.75 L138.91 15.70 L139.98 15.68 L141.05 15.67 L142.12 15.68 L143.20 15.71 L144.28 15.76 L145.36 15.82 L146.45 15.90 L147.53 15.99 L148.63 16.10 L149.72 16.22 L150.81 16.35 L151.91 16.49 L153.01 16.64 L154.11 16.80 L155.21 16.97 L156.31 17.15 L157.41 17.33 L158.51 17.52 L159.61 17.71 L160.70 17.90 L161.80 18.10 L162.90 18.30 L163.99 18.50 L165.08 18.70 L166.17 18.90 L167.26 19.10 L168.35 19.30 L169.43 19.49 L170.51 19.69 L171.59 19.88 L172.67 20.07 L173.74 20.26 L174.82 20.45 L175.89 20.64 L176.96 20.83 L178.03 21.01 L179.10 21.19 L180.16 21.37 L181.23 21.55 L182.29 21.73 L183.36 21.90 L184.42 22.08 L185.48 22.25 L186.54 22.41 L187.60 22.58 L188.66 22.74 L189.72 22.90 L190.77 23.06 L191.83 23.22 L192.89 23.37 L193.94 23.52 L195.00 23.67 L196.06 23.82 L197.11 23.96 L198.17 24.10 L199.22 24.23 L200.28 24.37 L201.34 24.50 L202.39 24.62 L203.45 24.75 L204.50 24.87 L205.56 24.98 L206.62 25.10 L207.68 25.21 L208.74 25.31 L209.80 25.42 L210.86 25.51 L211.92 25.61 L212.98 25.70 L214.05 25.79 L215.11 25.87 L216.18 25.95 L217.25 26.02 L218.31 26.10 L219.38 26.16 L220.45 26.23 L221.53 26.29 L222.60 26.35 L223.67 26.40 L224.75 26.45 L225.82 26.50 L226.90 26.55 L227.97 26.59 L229.05 26.64 L230.13 26.68 L231.21 26.71 L232.29 26.75 L233.37 26.78 L234.45 26.82 L235.53 26.85 L236.62 26.88 L237.70 26.91 L238.78 26.93 L239.87 26.96 L240.95 26.99 L242.03 27.01 L243.12 27.04 L244.20 27.07 L245.29 27.09 L246.38 27.12 L247.46 27.14 L248.55 27.17 L249.63 27.19 L250.72 27.22 L251.81 27.25 L252.89 27.28 L253.98 27.31 L255.07 27.34 L256.15 27.37 L257.24 27.41 L258.33 27.44 L259.41 27.48 L260.50 27.52 L261.58 27.56 L262.67 27.61 L263.75 27.65 L264.84 27.70 L265.92 27.75 L267.01 27.81 L268.09 27.86 L269.17 27.93 L270.26 27.99 L271.34 28.06 L272.42 28.13 L273.50 28.20 L274.58 28.28 L275.66 28.36 L276.74 28.45 L277.82 28.54 L278.90 28.64 L279.97 28.73 L281.05 28.84 L282.12 28.94 L283.20 29.05 L284.27 29.16 L285.35 29.28 L286.42 29.39 L287.50 29.51 L288.57 29.64 L289.64 29.76 L290.71 29.89 L291.78 30.03 L292.86 30.16 L293.93 30.30 L295.00 30.43 L296.07 30.57 L297.14 30.72 L298.20 30.86 L299.27 31.01 L300.34 31.15 L301.41 31.30 L302.48 31.45 L303.55 31.60 L304.61 31.76 L305.68 31.91 L306.75 32.06 L307.82 32.22 L308.88 32.37 L309.95 32.53 L311.02 32.69 L312.08 32.85 L313.15 33.00 L314.22 33.16 L315.28 33.32 L316.35 33.48 L317.41 33.63 L318.48 33.79 L319.55 33.95 L320.61 34.11 L321.68 34.26 L322.75 34.42 L323.81 34.57 L324.88 34.72 L325.95 34.88 L327.02 35.03 L328.08 35.18 L329.15 35.33 L330.22 35.47 L331.29 35.62 L332.35 35.76 L333.42 35.90 L334.49 36.04 L335.56 36.18 L336.63 36.32 L337.70 36.45 L338.77 36.58 L339.84 36.71 L340.91 36.83 L341.98 36.96 L343.05 37.08 L344.12 37.19 L345.20 37.31 L346.27 37.42 L347.34 37.53 L348.42 37.63 L349.49 37.73 L350.57 37.83 L351.64 37.92 L352.72 38.01 L353.79 38.10 L354.87 38.18 L355.95 38.26 L357.03 38.33 L358.11 38.40 L359.19 38.46 L360.27 38.52 L361.35 38.58 L362.43 38.63 L363.51 38.67 L364.60 38.71 L365.68 38.75 L366.77 38.78 L367.85 38.80 L368.94 38.82 L370.03 38.83 L371.11 38.84 L372.20 38.84 L373.29 38.84 L374.38 38.83 L375.48 38.81 L376.57 38.79 L377.66 38.76" stroke="#00f000"/>
<path d="M51.61 212.44 L51.66 211.32 L51.71 210.19 L51.76 209.07 L51.82 207.95 L51.88 206.83 L51.94 205.71 L52.01 204.59 L52.08 203.47 L52.16 202.35 L52.24 201.23 L52.32 200.12 L52.41 199.00 L52.50 197.89 L52.59 196.77 L52.69 195.66 L52.79 194.55 L52.89 193.44 L52.99 192.33 L53.10 191.22 L53.22 190.11 L53.33 189.00 L53.45 187.89 L53.58 186.79 L53.70 185.68 L53.83 184.57 L53.97 183.47 L54.10 182.37 L54.24 181.26 L54.39 180.16 L54.53 179.06 L54.68 177.96 L54.83 176.86 L54.99 175.76 L55.15 174.66 L55.31 173.56 L55.48 172.47 L55.65 171.37 L55.82 170.28 L55.99 169.18 L56.17 168.09 L56.35 166.99 L56.54 165.90 L56.72 164.81 L56.91 163.72 L57.11 162.63 L57.30 161.54 L57.50 160.45 L57.70 159.36 L57.91 158.27 L58.12 157.18 L58.33 156.09 L58.54 155.01 L58.76 153.92 L58.98 152.84 L59.21 151.75 L59.43 150.67 L59.66 149.58 L59.89 148.50 L60.13 147.42 L60.36 146.34 L60.60 145.26 L60.85 144.18 L61.09 143.10 L61.34 142.02 L61.59 140.94 L61.85 139.86 L62.11 138.78 L62.37 137.71 L62.63 136.63 L62.90 135.56 L63.16 134.48 L63.43 133.41 L63.71 132.33 L63.98 131.26 L64.26 130.18 L64.55 129.11 L64.83 128.04 L65.12 126.97 L65.41 125.90 L65.70 124.83 L65.99 123.76 L66.29 122.69 L66.59 121.62 L66.89 120.55 L67.20 119.48 L67.51 118.41 L67.82 117.34 L68.13 116.28 L68.44 115.21 L68.76 114.15 L69.08 113.08 L69.40 112.01 L69.73 110.95 L70.06 109.89 L70.39 108.82 L70.72 107.76 L71.05 106.70 L71.39 105.63 L71.73 104.57 L72.07 103.51 L72.41 102.45 L72.76 101.39 L73.11 100.33 L73.46 99.27 L73.81 98.21 L74.17 97.15 L74.53 96.09 L74.89 95.03 L75.25 93.97 L75.61 92.91 L75.98 91.86 L76.35 90.80 L76.73 89.74 L77.11 88.69 L77.49 87.64 L77.87 86.59 L78.26 85.54 L78.65 84.49 L79.04 83.44 L79.44 82.39 L79.85 81.35 L80.25 80.31 L80.67 79.27 L81.08 78.23 L81.50 77.20 L81.93 76.16 L82.36 75.13 L82.79 74.10 L83.23 73.08 L83.68 72.05 L84.13 71.03 L84.59 70.01 L85.05 69.00 L85.52 67.98 L85.99 66.98 L86.47 65.97 L86.96 64.97 L87.45 63.97 L87.95 62.97 L88.46 61.98 L88.97 60.99 L89.49 60.01 L90.01 59.03 L90.55 58.05 L91.09 57.08 L91.63 56.11 L92.19 55.14 L92.75 54.18 L93.32 53.23 L93.90 52.28 L94.49 51.33 L95.08 50.39 L95.68 49.45 L96.29 48.52 L96.91 47.60 L97.54 46.68 L98.18 45.76 L98.82 44.85 L99.48 43.94 L100.14 43.04 L100.82 42.15 L101.50 41.26 L102.19 40.38 L102.89 39.51 L103.60 38.64 L104.33 37.78 L105.06 36.93 L105.80 36.09 L106.55 35.26 L107.32 34.45 L108.09 33.64 L108.88 32.85 L109.68 32.08 L110.49 31.32 L111.31 30.58 L112.14 29.85 L112.99 29.15 L113.85 28.46 L114.72 27.79 L115.60 27.14 L116.49 26.51 L117.40 25.91 L118.32 25.32 L119.25 24.76 L120.18 24.22 L121.13 23.70 L122.09 23.20 L123.06 22.73 L124.04 22.28 L125.03 21.85 L126.03 21.45 L127.03 21.07 L128.05 20.72 L129.07 20.39 L130.10 20.09 L131.14 19.81 L132.19 19.56 L133.24 19.34 L134.30 19.14 L135.37 18.96 L136.44 18.81 L137.52 18.67 L138.61 18.56 L139.70 18.47 L140.79 18.40 L141.89 18.35 L142.99 18.32 L144.10 18.31 L145.21 18.31 L146.32 18.33 L147.44 18.36 L148.56 18.41 L149.68 18.48 L150.81 18.56 L151.93 18.65 L153.06 18.75 L154.19 18.87 L155.32 18.99 L156.44 19.13 L157.57 19.27 L158.70 19.42 L159.83 19.58 L160.96 19.75 L162.08 19.93 L163.21 20.11 L164.33 20.29 L165.45 20.48 L166.57 20.67 L167.69 20.87 L168.80 21.07 L169.91 21.27 L171.02 21.48 L172.13 21.69 L173.23 21.90 L174.34 22.11 L175.44 22.33 L176.54 22.55 L177.64 22.77 L178.74 22.99 L179.84 23.21 L180.93 23.43 L182.03 23.66 L183.12 23.88 L184.21 24.10 L185.30 24.33 L186.39 24.55 L187.48 24.78 L188.57 25.00 L189.66 25.22 L190.74 25.44 L191.83 25.66 L192.92 25.88 L194.00 26.10 L195.09 26.31 L196.17 26.52 L197.26 26.74 L198.34 26.94 L199.43 27.15 L200.51 27.35 L201.60 27.55 L202.68 27.74 L203.77 27.94 L204.86 28.12 L205.94 28.31 L207.03 28.49 L208.12 28.66 L209.21 28.83 L210.30 29.00 L211.39 29.16 L212.48 29.31 L213.57 29.46 L214.67 29.61 L215.76 29.74 L216.86 29.87 L217.95 30.00 L219.05 30.12 L220.15 30.23 L221.25 30.34 L222.35 30.45 L223.46 30.54 L224.56 30.64 L225.67 30.73 L226.77 30.81 L227.88 30.89 L228.98 30.97 L230.09 31.04 L231.20 31.11 L232.31 31.18 L233.42 31.24 L234.53 31.30 L235.64 31.35 L236.76 31.40 L237.87 31.45 L238.98 31.50 L240.10 31.54 L241.21 31.59 L242.33 31.63 L243.44 31.66 L244.56 31.70 L245.67 31.73 L246.79 31.77 L247.91 31.80 L249.02 31.83 L250.14 31.86 L251.26 31.89 L252.38 31.92 L253.50 31.95 L254.61 31.97 L255.73 32.00 L256.85 32.03 L257.97 32.06 L259.09 32.09 L260.20 32.12 L261.32 32.15 L262.44 32.18 L263.56 32.21 L264.68 32.24 L265.79 32.28 L266.91 32.31 L268.03 32.35 L269.14 32.39 L270.26 32.44 L271.38 32.48 L272.49 32.53 L273.61 32.58 L274.72 32.63 L275.83 32.68 L276.95 32.74 L278.06 32.80 L279.17 32.87 L280.29 32.94 L281.40 33.01 L282.51 33.08 L283.62 33.15 L284.73 33.23 L285.84 33.31 L286.95 33.40 L288.06 33.48 L289.17 33.57 L290.28 33.66 L291.38 33.75 L292.49 33.84 L293.60 33.94 L294.71 34.04 L295.81 34.14 L296.92 34.24 L298.03 34.35 L299.13 34.45 L300.24 34.56 L301.34 34.67 L302.45 34.78 L303.55 34.89 L304.66 35.01 L305.76 35.12 L306.87 35.24 L307.97 35.36 L309.07 35.48 L310.18 35.60 L311.28 35.72 L312.38 35.85 L313.49 35.97 L314.59 36.10 L315.69 36.22 L316.80 36.35 L317.90 36.48 L319.00 36.61 L320.10 36.74 L321.21 36.87 L322.31 37.00 L323.41 37.13 L324.52 37.27 L325.62 37.40 L326.72 37.53 L327.82 37.67 L328.93 37.80 L330.03 37.93 L331.13 38.07 L332.23 38.20 L333.34 38.34 L334.44 38.47 L335.54 38.61 L336.64 38.74 L337.75 38.87 L338.85 39.01 L339.95 39.14 L341.06 39.27 L342.16 39.41 L343.26 39.54 L344.37 39.67 L345.47 39.80 L346.58 39.93 L347.68 40.06 L348.79 40.19 L349.89 40.32 L351.00 40.45 L352.10 40.57 L353.21 40.70 L354.31 40.82 L355.42 40.95 L356.53 41.07 L357.63 41.19 L358.74 41.31 L359.85 41.43 L360.96 41.54 L362.06 41.66 L363.17 41.77 L364.28 41.88 L365.39 41.99 L366.50 42.10 L367.61 42.21 L368.72 42.32 L369.83 42.42 L370.94 42.52 L372.06 42.62 L373.17 42.72 L374.28 42.81 L375.39 42.91 L376.51 43.00 L377.62 43.09" stroke="#0000ff" stroke-dasharray="2.5 2.0"/>
<path d="M53.75 193.88 L53.92 192.84 L54.09 191.81 L54.27 190.77 L54.44 189.73 L54.61 188.69 L54.79 187.65 L54.96 186.61 L55.13 185.56 L55.30 184.52 L55.47 183.48 L55.65 182.43 L55.82 181.38 L55.99 180.34 L56.17 179.29 L56.34 178.24 L56.51 177.19 L56.69 176.14 L56.86 175.09 L57.03 174.04 L57.21 172.99 L57.39 171.94 L57.56 170.89 L57.74 169.83 L57.92 168.78 L58.09 167.73 L58.27 166.67 L58.45 165.62 L58.63 164.57 L58.82 163.51 L59.00 162.46 L59.18 161.40 L59.37 160.34 L59.55 159.29 L59.74 158.23 L59.92 157.18 L60.11 156.12 L60.30 155.06 L60.50 154.01 L60.69 152.95 L60.88 151.90 L61.08 150.84 L61.27 149.78 L61.47 148.73 L61.67 147.67 L61.87 146.62 L62.08 145.56 L62.28 144.50 L62.49 143.45 L62.70 142.39 L62.91 141.34 L63.12 140.28 L63.33 139.23 L63.55 138.18 L63.77 137.12 L63.99 136.07 L64.21 135.02 L64.43 133.97 L64.66 132.91 L64.89 131.86 L65.12 130.81 L65.35 129.76 L65.59 128.71 L65.83 127.67 L66.07 126.62 L66.31 125.57 L66.55 124.52 L66.80 123.48 L67.05 122.43 L67.30 121.39 L67.56 120.34 L67.82 119.30 L68.08 118.26 L68.34 117.22 L68.61 116.18 L68.88 115.14 L69.15 114.10 L69.43 113.06 L69.71 112.03 L69.99 110.99 L70.28 109.96 L70.56 108.93 L70.86 107.90 L71.15 106.87 L71.45 105.84 L71.75 104.81 L72.06 103.78 L72.36 102.76 L72.68 101.73 L72.99 100.71 L73.31 99.69 L73.63 98.67 L73.96 97.65 L74.29 96.63 L74.62 95.62 L74.96 94.60 L75.30 93.59 L75.65 92.58 L76.00 91.57 L76.35 90.56 L76.71 89.55 L77.07 88.55 L77.43 87.55 L77.80 86.54 L78.18 85.54 L78.55 84.55 L78.94 83.55 L79.32 82.56 L79.71 81.56 L80.11 80.57 L80.51 79.59 L80.91 78.60 L81.32 77.61 L81.74 76.63 L82.15 75.65 L82.58 74.67 L83.01 73.70 L83.44 72.72 L83.87 71.75 L84.32 70.78 L84.76 69.81 L85.22 68.84 L85.67 67.88 L86.13 66.92 L86.60 65.96 L87.07 65.00 L87.55 64.05 L88.03 63.10 L88.52 62.15 L89.02 61.20 L89.51 60.26 L90.02 59.31 L90.53 58.37 L91.04 57.44 L91.56 56.50 L92.09 55.57 L92.62 54.64 L93.16 53.71 L93.70 52.79 L94.25 51.87 L94.80 50.95 L95.36 50.03 L95.93 49.12 L96.50 48.21 L97.08 47.30 L97.67 46.40 L98.26 45.49 L98.85 44.60 L99.45 43.70 L100.06 42.81 L100.68 41.92 L101.30 41.03 L101.93 40.15 L102.56 39.27 L103.20 38.39 L103.85 37.53 L104.51 36.67 L105.18 35.82 L105.86 34.97 L106.55 34.14 L107.24 33.32 L107.95 32.52 L108.67 31.72 L109.40 30.94 L110.14 30.18 L110.90 29.43 L111.67 28.70 L112.45 27.98 L113.25 27.29 L114.06 26.61 L114.89 25.96 L115.72 25.32 L116.57 24.71 L117.44 24.12 L118.31 23.55 L119.20 23.00 L120.10 22.47 L121.01 21.97 L121.93 21.49 L122.86 21.03 L123.80 20.59 L124.75 20.18 L125.71 19.80 L126.68 19.44 L127.66 19.10 L128.65 18.79 L129.64 18.51 L130.64 18.25 L131.65 18.01 L132.66 17.81 L133.69 17.62 L134.71 17.46 L135.75 17.33 L136.79 17.21 L137.83 17.12 L138.88 17.05 L139.94 16.99 L141.00 16.96 L142.06 16.94 L143.13 16.94 L144.20 16.96 L145.27 16.99 L146.35 17.03 L147.43 17.10 L148.51 17.17 L149.60 17.26 L150.69 17.35 L151.77 17.46 L152.86 17.58 L153.95 17.71 L155.05 17.84 L156.14 17.99 L157.23 18.14 L158.32 18.29 L159.41 18.45 L160.50 18.62 L161.59 18.79 L162.68 18.96 L163.77 19.13 L164.85 19.31 L165.93 19.48 L167.01 19.66 L168.09 19.83 L169.17 20.01 L170.24 20.18 L171.31 20.36 L172.38 20.53 L173.45 20.71 L174.52 20.88 L175.58 21.05 L176.65 21.23 L177.71 21.40 L178.77 21.57 L179.83 21.74 L180.89 21.91 L181.94 22.08 L183.00 22.24 L184.05 22.41 L185.11 22.57 L186.16 22.73 L187.21 22.89 L188.26 23.05 L189.31 23.21 L190.36 23.37 L191.41 23.52 L192.46 23.67 L193.51 23.82 L194.56 23.97 L195.61 24.11 L196.65 24.25 L197.70 24.39 L198.75 24.53 L199.79 24.67 L200.84 24.80 L201.89 24.93 L202.94 25.05 L203.99 25.18 L205.03 25.30 L206.08 25.41 L207.13 25.52 L208.18 25.63 L209.23 25.74 L210.28 25.84 L211.34 25.94 L212.39 26.04 L213.44 26.13 L214.50 26.22 L215.55 26.30 L216.61 26.38 L217.67 26.45 L218.73 26.53 L219.79 26.59 L220.85 26.66 L221.91 26.72 L222.98 26.78 L224.04 26.83 L225.10 26.89 L226.17 26.94 L227.24 26.98 L228.30 27.03 L229.37 27.07 L230.44 27.11 L231.51 27.15 L232.58 27.19 L233.65 27.22 L234.72 27.25 L235.79 27.29 L236.86 27.32 L237.94 27.35 L239.01 27.37 L240.08 27.40 L241.16 27.43 L242.23 27.45 L243.31 27.48 L244.38 27.50 L245.46 27.53 L246.53 27.56 L247.61 27.58 L248.68 27.61 L249.76 27.63 L250.83 27.66 L251.91 27.69 L252.99 27.72 L254.06 27.74 L255.14 27.77 L256.21 27.81 L257.29 27.84 L258.36 27.87 L259.44 27.91 L260.52 27.95 L261.59 27.99 L262.67 28.03 L263.74 28.08 L264.81 28.12 L265.89 28.17 L266.96 28.23 L268.04 28.28 L269.11 28.34 L270.18 28.40 L271.25 28.47 L272.32 28.53 L273.39 28.61 L274.46 28.68 L275.53 28.76 L276.60 28.84 L277.67 28.93 L278.74 29.02 L279.81 29.12 L280.87 29.21 L281.94 29.32 L283.01 29.42 L284.07 29.53 L285.13 29.64 L286.20 29.75 L287.26 29.87 L288.33 29.99 L289.39 30.11 L290.45 30.23 L291.51 30.36 L292.57 30.49 L293.64 30.62 L294.70 30.75 L295.76 30.89 L296.82 31.03 L297.88 31.17 L298.94 31.31 L300.00 31.45 L301.05 31.59 L302.11 31.74 L303.17 31.89 L304.23 32.04 L305.29 32.18 L306.35 32.34 L307.40 32.49 L308.46 32.64 L309.52 32.79 L310.58 32.94 L311.63 33.10 L312.69 33.25 L313.75 33.41 L314.81 33.56 L315.86 33.72 L316.92 33.87 L317.98 34.02 L319.03 34.18 L320.09 34.33 L321.15 34.49 L322.21 34.64 L323.26 34.79 L324.32 34.94 L325.38 35.09 L326.44 35.24 L327.49 35.39 L328.55 35.54 L329.61 35.69 L330.67 35.83 L331.73 35.97 L332.78 36.12 L333.84 36.26 L334.90 36.39 L335.96 36.53 L337.02 36.66 L338.08 36.80 L339.14 36.93 L340.20 37.05 L341.26 37.18 L342.32 37.30 L343.39 37.42 L344.45 37.54 L345.51 37.66 L346.57 37.77 L347.64 37.88 L348.70 37.98 L349.77 38.08 L350.83 38.18 L351.90 38.28 L352.96 38.37 L354.03 38.46 L355.09 38.55 L356.16 38.63 L357.23 38.70 L358.30 38.78 L359.37 38.85 L360.44 38.91 L361.51 38.97 L362.58 39.03 L363.65 39.08 L364.72 39.12 L365.80 39.16 L366.87 39.20 L367.95 39.23 L369.02 39.26 L370.10 39.28 L371.18 39.30 L372.25 39.31 L373.33 39.31 L374.41 39.31 L375.49 39.31 L376.57 39.30 L377.65 39.28" stroke="#0000ff" stroke-dasharray="0.9 1.15"/>
<path d="M55.26 192.43 L55.43 191.39 L55.60 190.35 L55.78 189.30 L55.95 188.26 L56.12 187.22 L56.30 186.17 L56.47 185.13 L56.64 184.08 L56.81 183.03 L56.99 181.99 L57.16 180.94 L57.33 179.89 L57.50 178.84 L57.68 177.79 L57.85 176.74 L58.02 175.69 L58.19 174.64 L58.37 173.59 L58.54 172.54 L58.71 171.49 L58.89 170.43 L59.06 169.38 L59.23 168.33 L59.41 167.28 L59.59 166.22 L59.76 165.17 L59.94 164.12 L60.12 163.06 L60.30 162.01 L60.48 160.95 L60.66 159.90 L60.84 158.85 L61.02 157.79 L61.20 156.74 L61.39 155.68 L61.57 154.63 L61.76 153.57 L61.94 152.52 L62.13 151.47 L62.32 150.41 L62.51 149.36 L62.71 148.30 L62.90 147.25 L63.10 146.20 L63.29 145.14 L63.49 144.09 L63.69 143.04 L63.89 141.99 L64.09 140.93 L64.30 139.88 L64.50 138.83 L64.71 137.78 L64.92 136.73 L65.13 135.68 L65.35 134.63 L65.56 133.58 L65.78 132.53 L66.00 131.48 L66.22 130.43 L66.45 129.39 L66.67 128.34 L66.90 127.29 L67.13 126.25 L67.36 125.20 L67.60 124.16 L67.84 123.12 L68.08 122.07 L68.32 121.03 L68.56 119.99 L68.81 118.95 L69.06 117.91 L69.32 116.87 L69.57 115.83 L69.83 114.80 L70.09 113.76 L70.35 112.73 L70.62 111.69 L70.89 110.66 L71.16 109.63 L71.44 108.60 L71.72 107.57 L72.00 106.54 L72.29 105.51 L72.57 104.48 L72.87 103.46 L73.16 102.43 L73.46 101.41 L73.76 100.39 L74.07 99.36 L74.37 98.34 L74.69 97.33 L75.00 96.31 L75.32 95.29 L75.64 94.28 L75.97 93.27 L76.30 92.25 L76.63 91.24 L76.97 90.23 L77.31 89.23 L77.66 88.22 L78.01 87.22 L78.36 86.21 L78.72 85.21 L79.08 84.21 L79.45 83.21 L79.82 82.22 L80.19 81.22 L80.57 80.23 L80.95 79.24 L81.34 78.25 L81.73 77.26 L82.13 76.27 L82.53 75.29 L82.94 74.30 L83.35 73.32 L83.76 72.34 L84.18 71.37 L84.60 70.39 L85.03 69.42 L85.47 68.44 L85.90 67.47 L86.35 66.51 L86.79 65.54 L87.25 64.58 L87.71 63.61 L88.17 62.66 L88.64 61.70 L89.11 60.74 L89.59 59.79 L90.07 58.84 L90.56 57.89 L91.06 56.94 L91.56 56.00 L92.06 55.05 L92.57 54.11 L93.09 53.18 L93.61 52.24 L94.14 51.31 L94.67 50.38 L95.21 49.45 L95.76 48.52 L96.31 47.60 L96.86 46.68 L97.43 45.76 L97.99 44.84 L98.57 43.93 L99.15 43.02 L99.73 42.11 L100.33 41.20 L100.93 40.30 L101.53 39.40 L102.14 38.51 L102.76 37.62 L103.39 36.74 L104.03 35.86 L104.68 35.00 L105.34 34.14 L106.01 33.29 L106.69 32.46 L107.38 31.64 L108.08 30.83 L108.80 30.03 L109.53 29.25 L110.27 28.49 L111.03 27.75 L111.80 27.02 L112.59 26.31 L113.40 25.62 L114.22 24.95 L115.05 24.30 L115.90 23.67 L116.76 23.06 L117.63 22.48 L118.52 21.91 L119.42 21.37 L120.32 20.85 L121.24 20.36 L122.17 19.89 L123.11 19.44 L124.06 19.02 L125.02 18.62 L125.99 18.25 L126.96 17.90 L127.94 17.58 L128.93 17.28 L129.92 17.02 L130.92 16.78 L131.93 16.56 L132.94 16.37 L133.95 16.21 L134.97 16.07 L136.00 15.95 L137.03 15.86 L138.06 15.79 L139.10 15.73 L140.14 15.70 L141.19 15.68 L142.24 15.68 L143.29 15.70 L144.34 15.73 L145.40 15.78 L146.46 15.84 L147.53 15.92 L148.59 16.00 L149.66 16.10 L150.73 16.21 L151.81 16.32 L152.88 16.45 L153.96 16.58 L155.03 16.72 L156.11 16.86 L157.19 17.01 L158.27 17.16 L159.35 17.31 L160.43 17.46 L161.51 17.62 L162.59 17.78 L163.67 17.93 L164.76 18.08 L165.84 18.23 L166.91 18.38 L167.99 18.52 L169.07 18.66 L170.15 18.80 L171.23 18.93 L172.30 19.07 L173.38 19.19 L174.46 19.32 L175.53 19.45 L176.61 19.57 L177.68 19.69 L178.75 19.80 L179.83 19.92 L180.90 20.03 L181.97 20.14 L183.04 20.24 L184.11 20.35 L185.19 20.45 L186.26 20.55 L187.33 20.65 L188.40 20.75 L189.46 20.84 L190.53 20.93 L191.60 21.02 L192.67 21.11 L193.74 21.20 L194.80 21.28 L195.87 21.37 L196.94 21.45 L198.00 21.53 L199.07 21.61 L200.14 21.69 L201.20 21.76 L202.27 21.84 L203.33 21.91 L204.39 21.98 L205.46 22.05 L206.52 22.12 L207.59 22.19 L208.65 22.26 L209.71 22.32 L210.77 22.39 L211.84 22.45 L212.90 22.52 L213.96 22.58 L215.02 22.64 L216.08 22.70 L217.14 22.76 L218.20 22.82 L219.27 22.88 L220.33 22.94 L221.39 23.00 L222.45 23.06 L223.51 23.12 L224.57 23.17 L225.63 23.23 L226.69 23.29 L227.75 23.34 L228.80 23.40 L229.86 23.45 L230.92 23.51 L231.98 23.57 L233.04 23.62 L234.10 23.68 L235.16 23.74 L236.22 23.79 L237.28 23.85 L238.33 23.91 L239.39 23.96 L240.45 24.02 L241.51 24.08 L242.57 24.14 L243.63 24.20 L244.68 24.26 L245.74 24.32 L246.80 24.38 L247.86 24.44 L248.92 24.51 L249.98 24.57 L251.03 24.64 L252.09 24.70 L253.15 24.77 L254.21 24.84 L255.27 24.91 L256.33 24.98 L257.38 25.05 L258.44 25.12 L259.50 25.19 L260.56 25.27 L261.62 25.35 L262.68 25.42 L263.74 25.50 L264.80 25.58 L265.86 25.67 L266.92 25.75 L267.98 25.84 L269.04 25.93 L270.10 26.02 L271.16 26.11 L272.22 26.20 L273.28 26.30 L274.34 26.39 L275.40 26.49 L276.46 26.59 L277.52 26.70 L278.59 26.80 L279.65 26.91 L280.71 27.02 L281.77 27.13 L282.83 27.24 L283.90 27.36 L284.96 27.47 L286.02 27.59 L287.09 27.71 L288.15 27.83 L289.21 27.95 L290.28 28.07 L291.34 28.19 L292.40 28.31 L293.47 28.44 L294.53 28.56 L295.60 28.69 L296.66 28.81 L297.73 28.94 L298.79 29.07 L299.85 29.20 L300.92 29.33 L301.98 29.45 L303.05 29.58 L304.11 29.71 L305.18 29.84 L306.24 29.97 L307.31 30.10 L308.37 30.23 L309.44 30.36 L310.51 30.49 L311.57 30.61 L312.64 30.74 L313.70 30.87 L314.77 31.00 L315.83 31.12 L316.90 31.25 L317.97 31.37 L319.03 31.49 L320.10 31.62 L321.16 31.74 L322.23 31.86 L323.29 31.98 L324.36 32.10 L325.43 32.21 L326.49 32.33 L327.56 32.44 L328.62 32.55 L329.69 32.67 L330.75 32.77 L331.82 32.88 L332.89 32.99 L333.95 33.09 L335.02 33.19 L336.08 33.29 L337.15 33.39 L338.21 33.49 L339.28 33.58 L340.34 33.67 L341.41 33.76 L342.47 33.84 L343.54 33.93 L344.60 34.01 L345.67 34.09 L346.73 34.16 L347.80 34.24 L348.86 34.31 L349.93 34.37 L350.99 34.44 L352.05 34.50 L353.12 34.55 L354.18 34.61 L355.25 34.66 L356.31 34.71 L357.37 34.75 L358.44 34.79 L359.50 34.83 L360.56 34.86 L361.62 34.89 L362.69 34.91 L363.75 34.94 L364.81 34.95 L365.87 34.97 L366.94 34.98 L368.00 34.98 L369.06 34.98 L370.12 34.98 L371.18 34.97 L372.24 34.96 L373.30 34.94 L374.36 34.92 L375.42 34.89 L376.48 34.86 L377.54 34.82" stroke="#0000ff"/>
</g>
<rect x="29.20" y="4.30" width="348.40" height="214.90" fill="none" stroke="#8a8a8a" stroke-width="0.55"/>
<path d="M29.20 219.20h2.40 M377.60 219.20h-2.40 M29.20 213.06h1.40 M377.60 213.06h-1.40 M29.20 206.92h1.40 M377.60 206.92h-1.40 M29.20 200.78h1.40 M377.60 200.78h-1.40 M29.20 194.64h1.40 M377.60 194.64h-1.40 M29.20 188.50h2.40 M377.60 188.50h-2.40 M29.20 182.36h1.40 M377.60 182.36h-1.40 M29.20 176.22h1.40 M377.60 176.22h-1.40 M29.20 170.08h1.40 M377.60 170.08h-1.40 M29.20 163.94h1.40 M377.60 163.94h-1.40 M29.20 157.80h2.40 M377.60 157.80h-2.40 M29.20 151.66h1.40 M377.60 151.66h-1.40 M29.20 145.52h1.40 M377.60 145.52h-1.40 M29.20 139.38h1.40 M377.60 139.38h-1.40 M29.20 133.24h1.40 M377.60 133.24h-1.40 M29.20 127.10h2.40 M377.60 127.10h-2.40 M29.20 120.96h1.40 M377.60 120.96h-1.40 M29.20 114.82h1.40 M377.60 114.82h-1.40 M29.20 108.68h1.40 M377.60 108.68h-1.40 M29.20 102.54h1.40 M377.60 102.54h-1.40 M29.20 96.40h2.40 M377.60 96.40h-2.40 M29.20 90.26h1.40 M377.60 90.26h-1.40 M29.20 84.12h1.40 M377.60 84.12h-1.40 M29.20 77.98h1.40 M377.60 77.98h-1.40 M29.20 71.84h1.40 M377.60 71.84h-1.40 M29.20 65.70h2.40 M377.60 65.70h-2.40 M29.20 59.56h1.40 M377.60 59.56h-1.40 M29.20 53.42h1.40 M377.60 53.42h-1.40 M29.20 47.28h1.40 M377.60 47.28h-1.40 M29.20 41.14h1.40 M377.60 41.14h-1.40 M29.20 35.00h2.40 M377.60 35.00h-2.40 M29.20 28.86h1.40 M377.60 28.86h-1.40 M29.20 22.72h1.40 M377.60 22.72h-1.40 M29.20 16.58h1.40 M377.60 16.58h-1.40 M29.20 10.44h1.40 M377.60 10.44h-1.40 M29.20 4.30h2.40 M377.60 4.30h-2.40 M29.66 219.20v-1.40 M29.66 4.30v1.40 M47.97 219.20v-1.40 M47.97 4.30v1.40 M66.29 219.20v-1.40 M66.29 4.30v1.40 M84.60 219.20v-2.40 M84.60 4.30v2.40 M102.91 219.20v-1.40 M102.91 4.30v1.40 M121.22 219.20v-1.40 M121.22 4.30v1.40 M139.54 219.20v-1.40 M139.54 4.30v1.40 M157.85 219.20v-2.40 M157.85 4.30v2.40 M176.16 219.20v-1.40 M176.16 4.30v1.40 M194.47 219.20v-1.40 M194.47 4.30v1.40 M212.79 219.20v-1.40 M212.79 4.30v1.40 M231.10 219.20v-2.40 M231.10 4.30v2.40 M249.41 219.20v-1.40 M249.41 4.30v1.40 M267.73 219.20v-1.40 M267.73 4.30v1.40 M286.04 219.20v-1.40 M286.04 4.30v1.40 M304.35 219.20v-2.40 M304.35 4.30v2.40 M322.66 219.20v-1.40 M322.66 4.30v1.40 M340.98 219.20v-1.40 M340.98 4.30v1.40 M359.29 219.20v-1.40 M359.29 4.30v1.40 M377.60 219.20v-2.40 M377.60 4.30v2.40 " stroke="#808080" stroke-width="0.5" fill="none"/>

<text x="27.9" y="222.90" text-anchor="end">0.0</text>
<text x="27.9" y="192.20" text-anchor="end">0.1</text>
<text x="27.9" y="161.50" text-anchor="end">0.2</text>
<text x="27.9" y="130.80" text-anchor="end">0.3</text>
<text x="27.9" y="100.10" text-anchor="end">0.4</text>
<text x="27.9" y="69.40" text-anchor="end">0.5</text>
<text x="27.9" y="38.70" text-anchor="end">0.6</text>
<text x="27.9" y="8.00" text-anchor="end">0.7</text>
<text x="84.00" y="229.9" text-anchor="middle">0.002</text>
<text x="157.25" y="229.9" text-anchor="middle">0.004</text>
<text x="230.50" y="229.9" text-anchor="middle">0.006</text>
<text x="303.75" y="229.9" text-anchor="middle">0.008</text>
<text x="377.00" y="229.9" text-anchor="middle">0.010</text>

<text transform="translate(8.2,111.3) rotate(-90)" text-anchor="middle">v/c</text>
<text x="184.6" y="245.6" xml:space="preserve"><tspan font-style="italic">ϵ</tspan><tspan dx="0.6">(GeV</tspan><tspan dy="-3.6" style="font-size:7.4px">4</tspan><tspan dy="3.6">)</tspan></text>
<rect x="183.7" y="53.2" width="173.8" height="161.2" fill="#ffffff" stroke="#9a9a9a" stroke-width="0.6"/>
<path d="M193.4 63.50H245.2" stroke="#ff0000" stroke-width="0.45" fill="none"/>
<g class="lt"><text x="252.0" y="68.80" font-style="italic" style="font-size:8.7px">B</text><text x="259.2" y="60.50" style="font-size:5px">1</text><path d="M259.2 61.40h3.1" stroke="#000" stroke-width="0.6"/><text x="259.2" y="67.80" style="font-size:3.2px">4</text><text x="263.3" y="68.80" xml:space="preserve">=167, <tspan font-style="italic">μ</tspan>=2.6, Γ=1.58</text><path d="M288.3 62.80q0.9 -1.1 1.8 -0.4t1.8 -0.4" stroke="#000" stroke-width="0.65" fill="none"/></g>
<path d="M193.4 81.40H245.2" stroke="#ff0000" stroke-width="0.45" fill="none" stroke-dasharray="0.8 1.2"/>
<g class="lt"><text x="252.0" y="86.42" font-style="italic" style="font-size:8.7px">B</text><text x="259.2" y="78.12" style="font-size:5px">1</text><path d="M259.2 79.02h3.1" stroke="#000" stroke-width="0.6"/><text x="259.2" y="85.42" style="font-size:3.2px">4</text><text x="263.3" y="86.42" xml:space="preserve">=167, <tspan font-style="italic">μ</tspan>=3.0, Γ=1.98</text><path d="M288.3 80.42q0.9 -1.1 1.8 -0.4t1.8 -0.4" stroke="#000" stroke-width="0.65" fill="none"/></g>
<path d="M193.4 98.85H245.2" stroke="#ff0000" stroke-width="0.45" fill="none" stroke-dasharray="2.0 1.5"/>
<g class="lt"><text x="252.0" y="104.04" font-style="italic" style="font-size:8.7px">B</text><text x="259.2" y="95.74" style="font-size:5px">1</text><path d="M259.2 96.64h3.1" stroke="#000" stroke-width="0.6"/><text x="259.2" y="103.04" style="font-size:3.2px">4</text><text x="263.3" y="104.04" xml:space="preserve">=167, <tspan font-style="italic">μ</tspan>=3.5, Γ=2.48</text><path d="M288.3 98.04q0.9 -1.1 1.8 -0.4t1.8 -0.4" stroke="#000" stroke-width="0.65" fill="none"/></g>
<path d="M193.4 116.40H245.2" stroke="#00f000" stroke-width="0.45" fill="none" stroke-dasharray="2.0 1.5"/>
<g class="lt"><text x="252.0" y="121.66" font-style="italic" style="font-size:8.7px">B</text><text x="259.2" y="113.36" style="font-size:5px">1</text><path d="M259.2 114.26h3.1" stroke="#000" stroke-width="0.6"/><text x="259.2" y="120.66" style="font-size:3.2px">4</text><text x="263.3" y="121.66" xml:space="preserve">=170, <tspan font-style="italic">μ</tspan>=3.0, Γ=1.9</text><path d="M288.3 115.66q0.9 -1.1 1.8 -0.4t1.8 -0.4" stroke="#000" stroke-width="0.65" fill="none"/></g>
<path d="M193.4 134.00H245.2" stroke="#00f000" stroke-width="0.45" fill="none" stroke-dasharray="0.8 1.2"/>
<g class="lt"><text x="252.0" y="139.28" font-style="italic" style="font-size:8.7px">B</text><text x="259.2" y="130.98" style="font-size:5px">1</text><path d="M259.2 131.88h3.1" stroke="#000" stroke-width="0.6"/><text x="259.2" y="138.28" style="font-size:3.2px">4</text><text x="263.3" y="139.28" xml:space="preserve">=170, <tspan font-style="italic">μ</tspan>=3.4, Γ=2.3</text><path d="M288.3 133.28q0.9 -1.1 1.8 -0.4t1.8 -0.4" stroke="#000" stroke-width="0.65" fill="none"/></g>
<path d="M193.4 151.60H245.2" stroke="#00f000" stroke-width="0.45" fill="none"/>
<g class="lt"><text x="252.0" y="156.90" font-style="italic" style="font-size:8.7px">B</text><text x="259.2" y="148.60" style="font-size:5px">1</text><path d="M259.2 149.50h3.1" stroke="#000" stroke-width="0.6"/><text x="259.2" y="155.90" style="font-size:3.2px">4</text><text x="263.3" y="156.90" xml:space="preserve">=170, <tspan font-style="italic">μ</tspan>=3.8, Γ=2.7</text><path d="M288.3 150.90q0.9 -1.1 1.8 -0.4t1.8 -0.4" stroke="#000" stroke-width="0.65" fill="none"/></g>
<path d="M193.4 169.40H245.2" stroke="#0000ff" stroke-width="0.45" fill="none" stroke-dasharray="2.0 1.5"/>
<g class="lt"><text x="252.0" y="174.52" font-style="italic" style="font-size:8.7px">B</text><text x="259.2" y="166.22" style="font-size:5px">1</text><path d="M259.2 167.12h3.1" stroke="#000" stroke-width="0.6"/><text x="259.2" y="173.52" style="font-size:3.2px">4</text><text x="263.3" y="174.52" xml:space="preserve">=171, <tspan font-style="italic">μ</tspan>=3.45, Γ=2.45</text><path d="M288.3 168.52q0.9 -1.1 1.8 -0.4t1.8 -0.4" stroke="#000" stroke-width="0.65" fill="none"/></g>
<path d="M193.4 187.00H245.2" stroke="#0000ff" stroke-width="0.45" fill="none" stroke-dasharray="0.8 1.2"/>
<g class="lt"><text x="252.0" y="192.14" font-style="italic" style="font-size:8.7px">B</text><text x="259.2" y="183.84" style="font-size:5px">1</text><path d="M259.2 184.74h3.1" stroke="#000" stroke-width="0.6"/><text x="259.2" y="191.14" style="font-size:3.2px">4</text><text x="263.3" y="192.14" xml:space="preserve">=171, <tspan font-style="italic">μ</tspan>=3.8, Γ=2.75</text><path d="M288.3 186.14q0.9 -1.1 1.8 -0.4t1.8 -0.4" stroke="#000" stroke-width="0.65" fill="none"/></g>
<path d="M193.4 204.40H245.2" stroke="#0000ff" stroke-width="0.45" fill="none"/>
<g class="lt"><text x="252.0" y="209.76" font-style="italic" style="font-size:8.7px">B</text><text x="259.2" y="201.46" style="font-size:5px">1</text><path d="M259.2 202.36h3.1" stroke="#000" stroke-width="0.6"/><text x="259.2" y="208.76" style="font-size:3.2px">4</text><text x="263.3" y="209.76" xml:space="preserve">=171, <tspan font-style="italic">μ</tspan>=4.2, Γ=3.19</text><path d="M288.3 203.76q0.9 -1.1 1.8 -0.4t1.8 -0.4" stroke="#000" stroke-width="0.65" fill="none"/></g>

</svg>
</body></html>
